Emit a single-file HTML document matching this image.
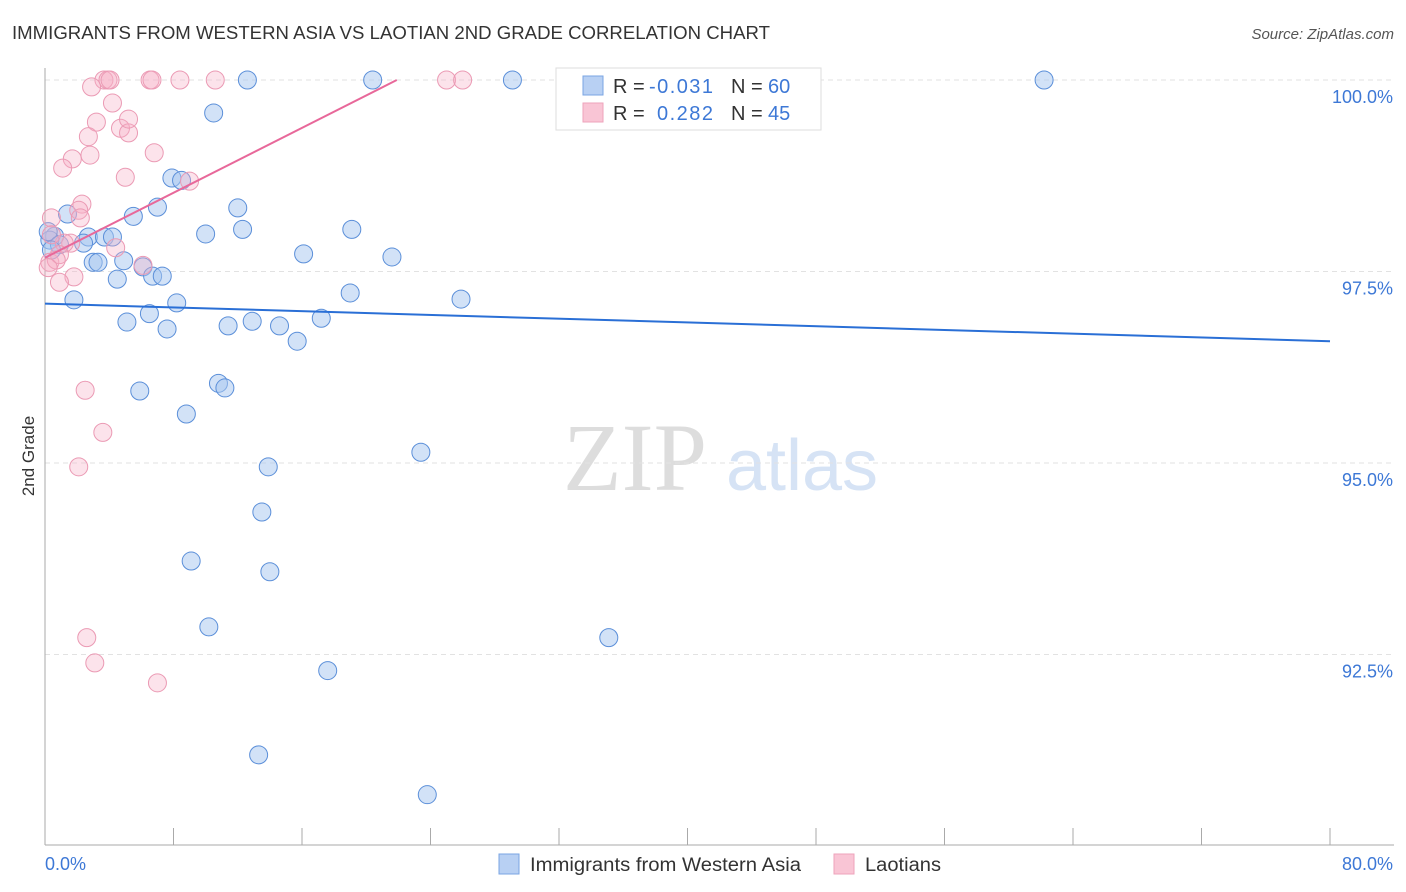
<!DOCTYPE html>
<html><head><meta charset="utf-8"><style>
body{margin:0;background:#fff;font-family:"Liberation Sans",sans-serif}
svg{display:block}
</style></head><body>
<svg id="c" width="1406" height="892" viewBox="0 0 1406 892">
<text x="12" y="39" font-size="18.5" fill="#333" textLength="758" lengthAdjust="spacingAndGlyphs">IMMIGRANTS FROM WESTERN ASIA VS LAOTIAN 2ND GRADE CORRELATION CHART</text>
<text x="1394" y="39" font-size="15" fill="#555" font-style="italic" text-anchor="end">Source: ZipAtlas.com</text>
<g>
<text x="635" y="490" font-size="96" fill="#ddd" font-family="Liberation Serif,serif" text-anchor="middle">ZIP</text>
<text x="802" y="490" font-size="72" fill="#d6e3f5" text-anchor="middle">atlas</text>
</g>
<g id="grid"></g><g id="axes"></g><g id="marks"></g><g id="trends"></g>
<text transform="translate(34,456) rotate(-90)" font-size="17" fill="#333" text-anchor="middle">2nd Grade</text>
<g>
<rect x="556" y="68" width="265" height="62" fill="#fff" stroke="#ddd"/>
<rect x="583" y="76" width="20" height="19" fill="#b8d0f3" stroke="#7aa5e3"/>
<rect x="583" y="103" width="20" height="19" fill="#f9c5d5" stroke="#eea3bb"/>
<text x="613" y="93" font-size="20" fill="#333">R = <tspan x="649" fill="#3d78d6" textLength="64">-0.031</tspan><tspan x="731">N = </tspan><tspan x="768" fill="#3d78d6">60</tspan></text>
<text x="613" y="120" font-size="20" fill="#333">R = <tspan x="657" fill="#3d78d6" textLength="56">0.282</tspan><tspan x="731">N = </tspan><tspan x="768" fill="#3d78d6">45</tspan></text>
</g>
<g>
<rect x="499" y="854" width="20" height="20" fill="#b8d0f3" stroke="#7aa5e3"/>
<text x="530" y="871" font-size="19" fill="#333" textLength="271" lengthAdjust="spacingAndGlyphs">Immigrants from Western Asia</text>
<rect x="834" y="854" width="20" height="20" fill="#f9c5d5" stroke="#eea3bb"/>
<text x="865" y="871" font-size="19" fill="#333" textLength="76" lengthAdjust="spacingAndGlyphs">Laotians</text>
</g>
</svg>
<script>
const yTicks=[100,97.5,95,92.5];
const yTickLabels=["100.0%","97.5%","95.0%","92.5%"];
const xTicks=[0,8,16,24,32,40,48,56,64,72,80];
const xTickLabels=["0.0%","80.0%"];
const blueX=[12.6,20.4,29.1,42.3,62.2,10.5,7.9,8.5,7.0,12.0,1.4,5.5,12.3,19.1,10.0,0.6,2.7,3.7,4.2,0.3,16.1,21.6,3.0,3.3,4.9,6.1,6.7,7.3,4.5,19.0,25.9,1.8,8.2,5.1,6.5,7.6,11.4,12.9,14.6,17.2,15.7,10.8,11.2,5.9,8.8,23.4,13.9,13.5,9.1,14.0,10.2,35.1,17.6,13.3,23.8,0.2,0.9,2.4,0.4];
const blueY=[100,100,100,100,100,99.57,98.72,98.69,98.34,98.33,98.25,98.22,98.05,98.05,97.99,97.96,97.95,97.95,97.95,97.91,97.73,97.69,97.62,97.62,97.64,97.56,97.44,97.44,97.40,97.22,97.14,97.13,97.09,96.84,96.95,96.75,96.79,96.85,96.79,96.89,96.59,96.04,95.98,95.94,95.64,95.14,94.95,94.36,93.72,93.58,92.86,92.72,92.29,91.19,90.67,98.02,97.85,97.87,97.78];
const pinkX=[3.67,3.92,4.05,6.54,6.66,8.4,10.6,25.0,26.0,2.9,4.2,3.2,4.7,5.2,5.2,2.7,2.8,1.7,6.8,1.1,5.0,9.0,2.3,2.1,2.2,0.4,4.4,6.1,0.3,1.6,1.2,0.9,0.7,1.8,0.9,2.5,3.6,2.1,2.6,3.1,7.0,0.2,0.4];
const pinkY=[100,100,100,100,100,100,100,100,100,99.91,99.70,99.45,99.37,99.31,99.49,99.26,99.02,98.97,99.05,98.85,98.73,98.68,98.38,98.30,98.20,98.20,97.81,97.58,97.62,97.87,97.87,97.72,97.65,97.43,97.36,95.95,95.40,94.95,92.72,92.39,92.13,97.55,97.98];
const blueTrend=[[0,97.08],[80,96.59]];
const pinkTrend=[[0,97.68],[21.9,100]];
const X=v=>45+v*(1285/80), Y=v=>80+(100-v)*76.6;
const NS="http://www.w3.org/2000/svg";
function mk(t,a,p){const e=document.createElementNS(NS,t);for(const k in a)e.setAttribute(k,a[k]);p.appendChild(e);return e;}
const grid=document.getElementById('grid'),axes=document.getElementById('axes'),marks=document.getElementById('marks'),tr=document.getElementById('trends');
yTicks.forEach((t,i)=>{
 const l=mk('line',{x1:45,x2:1394,y1:Y(t),y2:Y(t),stroke:'#e2e2e2','stroke-dasharray':'5,4'},grid);
 
 
 const tx=mk('text',{x:1393,y:Y(t)+23,'font-size':18,fill:'#3d78d6','text-anchor':'end'},axes);
 tx.textContent=yTickLabels[i];
 
 
});
const la=mk('line',{x1:45,x2:45,y1:68,y2:845,stroke:'#aaa'},axes);


const ba=mk('line',{x1:45,x2:1394,y1:845,y2:845,stroke:'#aaa'},axes);


xTicks.forEach(t=>{
 const l=mk('line',{x1:X(t),x2:X(t),y1:828,y2:845,stroke:'#aaa'},axes);
 
 
});
[[0,'start'],[80,'end']].forEach((p,i)=>{
 const tx=mk('text',{x:i?1393:45,y:870,'font-size':18,fill:'#3d78d6','text-anchor':p[1]},axes);
 tx.textContent=xTickLabels[i];
 
 
});
blueX.forEach((v,i)=>{
 const c=mk('circle',{cx:X(v),cy:Y(blueY[i]),r:9,fill:'rgba(165,198,240,0.5)',stroke:'#5b8fd9','stroke-width':1},marks);
 
 
});
pinkX.forEach((v,i)=>{
 const c=mk('circle',{cx:X(v),cy:Y(pinkY[i]),r:9,fill:'rgba(246,175,198,0.35)',stroke:'#eb9ab4','stroke-width':1},marks);
 
 
});
const bt=mk('line',{x1:X(blueTrend[0][0]),y1:Y(blueTrend[0][1]),x2:X(blueTrend[1][0]),y2:Y(blueTrend[1][1]),stroke:'#2a6fd6','stroke-width':2},tr);


const pt=mk('line',{x1:X(pinkTrend[0][0]),y1:Y(pinkTrend[0][1]),x2:X(pinkTrend[1][0]),y2:Y(pinkTrend[1][1]),stroke:'#e8689a','stroke-width':2},tr);


</script>
</body></html>
